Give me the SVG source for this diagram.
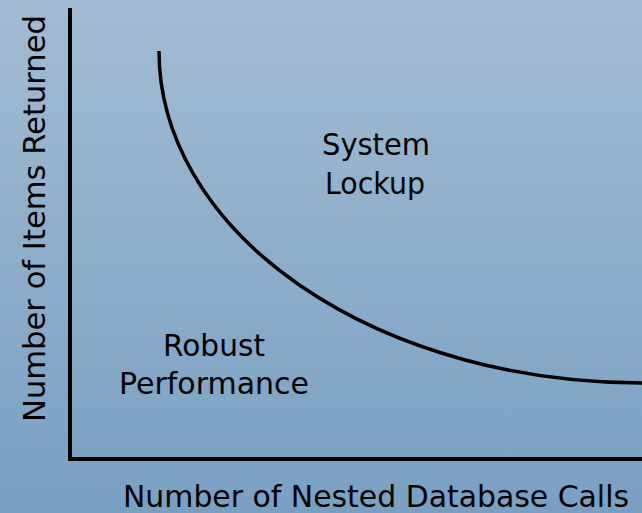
<svg xmlns="http://www.w3.org/2000/svg" width="642" height="513" viewBox="0 0 642 513">
  <defs>
    <linearGradient id="bg" x1="0" y1="0" x2="0" y2="1">
      <stop offset="0" stop-color="#a3bbd3"/>
      <stop offset="1" stop-color="#79a0c3"/>
    </linearGradient>
  </defs>
  <style>
    .axis { stroke: #000; stroke-width: 4; fill: none; }
    .curve { stroke: #000; stroke-width: 3.5; fill: none; }
    text { font-family: "DejaVu Sans", "Liberation Sans", sans-serif; font-size: 30px; fill: #000; }
    .c { text-anchor: middle; }
  </style>
  <rect id="background" x="0" y="0" width="642" height="513" fill="url(#bg)"/>
  <g id="axes">
    <line class="axis" x1="70" y1="8" x2="70" y2="459"/>
    <line class="axis" x1="68" y1="459" x2="642" y2="459"/>
  </g>
  <g id="connectors">
    <path id="boundary" class="curve" d="M159,51 A483,332 0 0 0 642,383"/>
  </g>
  <g id="region-lockup">
    <text class="c" x="376" y="155" textLength="108" lengthAdjust="spacingAndGlyphs">System</text>
    <text class="c" x="375" y="194" textLength="100" lengthAdjust="spacingAndGlyphs">Lockup</text>
  </g>
  <g id="region-robust">
    <text class="c" x="214" y="356" textLength="102" lengthAdjust="spacingAndGlyphs">Robust</text>
    <text class="c" x="214" y="394" textLength="190" lengthAdjust="spacingAndGlyphs">Performance</text>
  </g>
  <g id="x-label">
    <text class="c" x="376" y="507" textLength="506" lengthAdjust="spacingAndGlyphs">Number of Nested Database Calls</text>
  </g>
  <g id="y-label">
    <text class="c" transform="translate(45,218.5) rotate(-90)" x="0" y="0" textLength="407" lengthAdjust="spacingAndGlyphs">Number of Items Returned</text>
  </g>
</svg>
